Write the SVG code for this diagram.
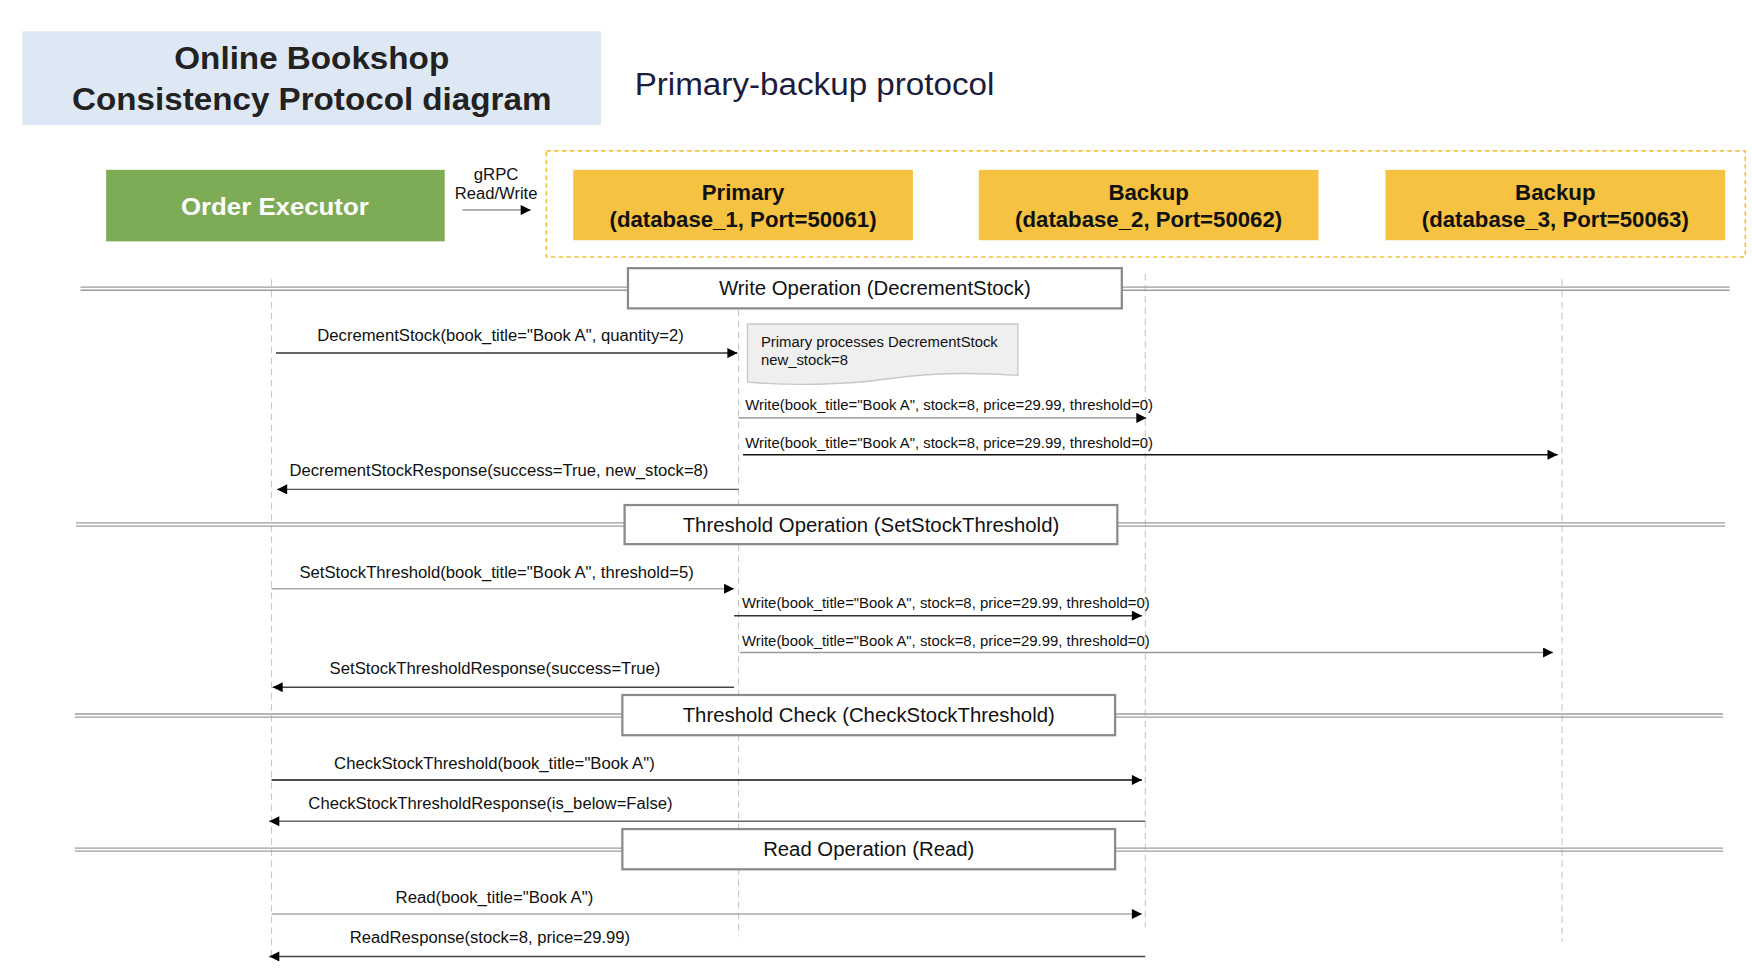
<svg xmlns="http://www.w3.org/2000/svg" width="1752" height="980" viewBox="0 0 1752 980">
<defs>
<marker id="ah" viewBox="0 0 10 10" refX="10" refY="5" markerWidth="10" markerHeight="9" markerUnits="userSpaceOnUse" orient="auto"><path d="M0,0 L10,5 L0,10 z" fill="#000"/></marker>
<style>
text{font-family:"Liberation Sans",Arial,sans-serif;fill:#111}
.title{font-size:28px;font-weight:bold;fill:#222}
.sub{font-size:28px;fill:#1c1c3c}
.node{font-size:19px;font-weight:bold;fill:#111}
.sec{font-size:18px;fill:#111}
.lbl{font-size:14px}
.wl{font-size:13px}
.sep{stroke:#9c9c9c;stroke-width:1.2;fill:none}
.secbox{fill:#fff;stroke:#8a8a8a;stroke-width:2}
.life{stroke:#c8c8c8;stroke-width:1;stroke-dasharray:6 4;fill:none}
.msg{fill:none;stroke-width:1.3;marker-end:url(#ah)}
</style>
</defs>
<rect width="1752" height="980" fill="#fff"/>
<g transform="scale(1.117347)">
<g id="title">
<rect x="20" y="28" width="518" height="84" fill="#dee8f4"/>
<text class="title" x="279" y="62" text-anchor="middle" textLength="246" lengthAdjust="spacingAndGlyphs">Online Bookshop</text>
<text class="title" x="279" y="98" text-anchor="middle" textLength="429" lengthAdjust="spacingAndGlyphs">Consistency Protocol diagram</text>
</g>
<g id="subtitle"><text class="sub" x="568" y="85" textLength="322" lengthAdjust="spacingAndGlyphs">Primary-backup protocol</text></g>

<g id="lifelines">
<line class="life" x1="243" y1="250" x2="243" y2="860"/>
<line class="life" x1="661" y1="277" x2="661" y2="838"/>
<line class="life" x1="1025" y1="245" x2="1025" y2="830"/>
<line class="life" x1="1398" y1="250" x2="1398" y2="843"/>
</g>

<g id="order-executor">
<rect x="95" y="152" width="303" height="64" fill="#7eab55"/>
<text x="246" y="192" text-anchor="middle" style="font-size:22px;font-weight:bold;fill:#fff" textLength="168" lengthAdjust="spacingAndGlyphs">Order Executor</text>
</g>
<g id="grpc">
<text x="444" y="161" text-anchor="middle" style="font-size:14px" textLength="40" lengthAdjust="spacingAndGlyphs">gRPC</text>
<text x="444" y="178" text-anchor="middle" style="font-size:14px" textLength="74" lengthAdjust="spacingAndGlyphs">Read/Write</text>
<line x1="414" y1="188" x2="475" y2="188" stroke="#999" stroke-width="1.3" marker-end="url(#ah)"/>
</g>
<g id="replica-group"><rect x="489" y="135" width="1073" height="95" fill="none" stroke="#f5c242" stroke-width="1.5" stroke-dasharray="4 3"/></g>
<g id="primary">
<rect x="513" y="152" width="304" height="63" fill="#f5c242"/>
<text class="node" x="665" y="179" text-anchor="middle" textLength="74" lengthAdjust="spacingAndGlyphs">Primary</text>
<text class="node" x="665" y="203" text-anchor="middle" textLength="239" lengthAdjust="spacingAndGlyphs">(database_1, Port=50061)</text>
</g>
<g id="backup-2">
<rect x="876" y="152" width="304" height="63" fill="#f5c242"/>
<text class="node" x="1028" y="179" text-anchor="middle" textLength="72" lengthAdjust="spacingAndGlyphs">Backup</text>
<text class="node" x="1028" y="203" text-anchor="middle" textLength="239" lengthAdjust="spacingAndGlyphs">(database_2, Port=50062)</text>
</g>
<g id="backup-3">
<rect x="1240" y="152" width="304" height="63" fill="#f5c242"/>
<text class="node" x="1392" y="179" text-anchor="middle" textLength="72" lengthAdjust="spacingAndGlyphs">Backup</text>
<text class="node" x="1392" y="203" text-anchor="middle" textLength="239" lengthAdjust="spacingAndGlyphs">(database_3, Port=50063)</text>
</g>

<g id="section-write">
<line class="sep" x1="72" y1="257" x2="1548" y2="257"/><line class="sep" x1="72" y1="259.8" x2="1548" y2="259.8" stroke="#b5b5b5"/>
<rect class="secbox" x="562" y="240" width="442" height="36"/>
<text class="sec" x="783" y="264" text-anchor="middle" textLength="279" lengthAdjust="spacingAndGlyphs">Write Operation (DecrementStock)</text>
</g>
<g id="section-threshold">
<line class="sep" x1="68" y1="468" x2="1544" y2="468"/><line class="sep" x1="68" y1="470.8" x2="1544" y2="470.8" stroke="#b5b5b5"/>
<rect class="secbox" x="559" y="452" width="441" height="35"/>
<text class="sec" x="779.5" y="476" text-anchor="middle" textLength="337" lengthAdjust="spacingAndGlyphs">Threshold Operation (SetStockThreshold)</text>
</g>
<g id="section-check">
<line class="sep" x1="67" y1="639" x2="1542" y2="639"/><line class="sep" x1="67" y1="641.8" x2="1542" y2="641.8" stroke="#b5b5b5"/>
<rect class="secbox" x="557" y="622" width="441" height="36"/>
<text class="sec" x="777.5" y="646" text-anchor="middle" textLength="333" lengthAdjust="spacingAndGlyphs">Threshold Check (CheckStockThreshold)</text>
</g>
<g id="section-read">
<line class="sep" x1="67" y1="759" x2="1542" y2="759"/><line class="sep" x1="67" y1="761.8" x2="1542" y2="761.8" stroke="#b5b5b5"/>
<rect class="secbox" x="557" y="742" width="441" height="36"/>
<text class="sec" x="777.5" y="766" text-anchor="middle" textLength="189" lengthAdjust="spacingAndGlyphs">Read Operation (Read)</text>
</g>

<g id="note-primary">
<path d="M669,290 H911 V336 C870,333 830,334 795,339 C755,345 705,345 669,342 Z" fill="#efefef" stroke="#c8c8c8" stroke-width="1.2"/>
<text class="wl" x="681" y="311" textLength="212" lengthAdjust="spacingAndGlyphs">Primary processes DecrementStock</text>
<text class="wl" x="681" y="327" textLength="78" lengthAdjust="spacingAndGlyphs">new_stock=8</text>
</g>

<g id="connectors">
<line class="msg" x1="247" y1="316" x2="660" y2="316" stroke="#333"/>
<text class="lbl" x="448" y="305" text-anchor="middle" textLength="328" lengthAdjust="spacingAndGlyphs">DecrementStock(book_title="Book A", quantity=2)</text>
<line class="msg" x1="661" y1="374" x2="1026" y2="374" stroke="#888"/>
<text class="wl" x="667" y="367" textLength="365" lengthAdjust="spacingAndGlyphs">Write(book_title="Book A", stock=8, price=29.99, threshold=0)</text>
<line class="msg" x1="665" y1="407" x2="1394" y2="407" stroke="#111"/>
<text class="wl" x="667" y="401" textLength="365" lengthAdjust="spacingAndGlyphs">Write(book_title="Book A", stock=8, price=29.99, threshold=0)</text>
<line class="msg" x1="661" y1="438" x2="248" y2="438" stroke="#555"/>
<text class="lbl" x="446.5" y="426" text-anchor="middle" textLength="375" lengthAdjust="spacingAndGlyphs">DecrementStockResponse(success=True, new_stock=8)</text>

<line class="msg" x1="243" y1="527" x2="657" y2="527" stroke="#aaa" stroke-width="1.8"/>
<text class="lbl" x="444.5" y="517" text-anchor="middle" textLength="353" lengthAdjust="spacingAndGlyphs">SetStockThreshold(book_title="Book A", threshold=5)</text>
<line class="msg" x1="657" y1="551" x2="1022" y2="551" stroke="#333"/>
<text class="wl" x="664" y="544" textLength="365" lengthAdjust="spacingAndGlyphs">Write(book_title="Book A", stock=8, price=29.99, threshold=0)</text>
<line class="msg" x1="662" y1="584" x2="1390" y2="584" stroke="#999"/>
<text class="wl" x="664" y="578" textLength="365" lengthAdjust="spacingAndGlyphs">Write(book_title="Book A", stock=8, price=29.99, threshold=0)</text>
<line class="msg" x1="657" y1="615" x2="244" y2="615" stroke="#444"/>
<text class="lbl" x="443" y="603" text-anchor="middle" textLength="296" lengthAdjust="spacingAndGlyphs">SetStockThresholdResponse(success=True)</text>

<line class="msg" x1="243" y1="698" x2="1022" y2="698" stroke="#111"/>
<text class="lbl" x="442.5" y="688" text-anchor="middle" textLength="287" lengthAdjust="spacingAndGlyphs">CheckStockThreshold(book_title="Book A")</text>
<line class="msg" x1="1025" y1="735" x2="241" y2="735" stroke="#666"/>
<text class="lbl" x="439" y="724" text-anchor="middle" textLength="326" lengthAdjust="spacingAndGlyphs">CheckStockThresholdResponse(is_below=False)</text>

<line class="msg" x1="243" y1="818" x2="1022" y2="818" stroke="#aaa" stroke-width="1.8"/>
<text class="lbl" x="442.5" y="808" text-anchor="middle" textLength="177" lengthAdjust="spacingAndGlyphs">Read(book_title="Book A")</text>
<line class="msg" x1="1025" y1="856" x2="241" y2="856" stroke="#444"/>
<text class="lbl" x="438.5" y="844" text-anchor="middle" textLength="251" lengthAdjust="spacingAndGlyphs">ReadResponse(stock=8, price=29.99)</text>
</g>
</g>
</svg>
